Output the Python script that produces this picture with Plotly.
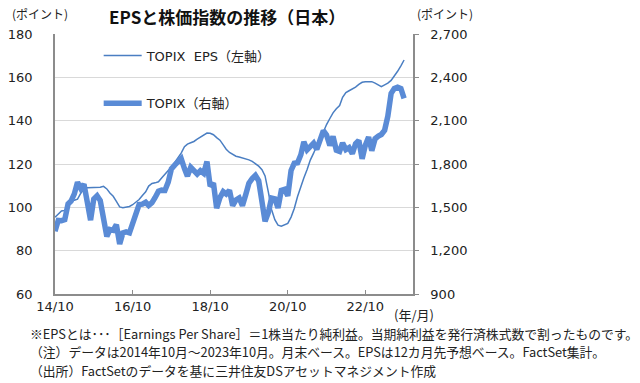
import plotly.graph_objects as go

# ---- data ----
months = [f"{y}-{m:02d}-01" for y in range(2014, 2024) for m in range(1, 13)]
months = months[months.index("2014-10-01"):months.index("2023-10-01") + 1]

eps_left = [
    95.4, 97.0, 98.3, 98.6, 100.5, 102.5, 103.3, 103.8, 106.5, 108.5,
    109.0, 109.0, 109.0, 109.0, 109.3, 109.7, 108.5, 106.6, 105.1, 102.8,
    100.2, 99.8, 100.0, 100.4, 101.2, 102.3, 103.6, 105.5, 107.2, 109.8,
    111.0, 111.3, 111.8, 113.5, 115.5, 117.0, 118.5, 120.5, 122.5, 125.0,
    128.0, 129.2, 129.8, 130.4, 131.5, 132.5, 133.5, 134.3, 134.2, 133.5,
    132.2, 131.0, 128.8, 126.8, 125.3, 124.3, 123.6, 123.2, 122.8, 122.4,
    121.9, 121.2, 120.3, 119.0, 117.4, 114.5, 107.0, 99.0, 94.3, 91.8,
    91.3, 92.0, 92.6, 95.5, 99.5, 105.0, 110.0, 113.5, 117.5, 121.8,
    125.0, 128.5, 131.2, 134.8, 138.2, 141.0, 143.6, 145.5, 147.0, 150.8,
    153.0, 153.8, 154.5, 155.5, 156.7, 157.7, 158.0, 158.0, 158.0, 157.3,
    156.5, 155.7, 156.5, 157.3, 158.6, 160.5, 162.8, 165.3, 168.0,
]

topix_right = [
    1334, 1410, 1408, 1415, 1524, 1543, 1593, 1674, 1630, 1660,
    1537, 1411, 1558, 1580, 1547, 1432, 1298, 1347, 1341, 1380,
    1246, 1323, 1330, 1323, 1393, 1469, 1519, 1522, 1535, 1513,
    1532, 1568, 1612, 1619, 1617, 1675, 1766, 1792, 1818, 1837,
    1768, 1716, 1777, 1747, 1731, 1753, 1735, 1817, 1646, 1667,
    1494, 1567, 1608, 1592, 1618, 1512, 1551, 1565, 1512, 1588,
    1667, 1699, 1721, 1684, 1511, 1403, 1464, 1564, 1559, 1496,
    1618, 1625, 1579, 1755, 1805, 1809, 1864, 1954, 1898, 1923,
    1944, 1901, 1961, 2030, 2001, 1928, 1992, 1896, 1887, 1946,
    1900, 1913, 1871, 1940, 1963, 1836, 1929, 1986, 1892, 1975,
    1993, 2004, 2034, 2131, 2289, 2323, 2332, 2323, 2254,
]

x_tick_vals = ["2014-10-01", "2016-10-01", "2018-10-01", "2020-10-01", "2022-10-01"]
x_tick_text = ["14/10", "16/10", "18/10", "20/10", "22/10"]
left_ticks = [60, 80, 100, 120, 140, 160, 180]
right_ticks = [900, 1200, 1500, 1800, 2100, 2400, 2700]

title_text = "EPSと株価指数の推移（日本）"
notes = [
    "※EPSとは･･･［Earnings Per Share］＝1株当たり純利益。当期純利益を発行済株式数で割ったものです。",
    "（注）データは2014年10月～2023年10月。月末ベース。EPSは12カ月先予想ベース。FactSet集計。",
    "（出所）FactSetのデータを基に三井住友DSアセットマネジメント作成",
]

FONT = "DejaVu Sans, Noto Sans CJK JP, sans-serif"
JFONT = "Noto Sans CJK JP, DejaVu Sans, sans-serif"
AXIS_COLOR = "#8c8c8c"

fig = go.Figure()
fig.add_trace(go.Scatter(
    x=months, y=eps_left, mode="lines", name="TOPIX\u00a0\u00a0EPS（左軸）",
    line=dict(color="#4a7ec2", width=1.5), yaxis="y", legendgroup="a",
))
fig.add_trace(go.Scatter(
    x=months, y=topix_right, mode="lines", name="TOPIX（右軸）",
    line=dict(color="#5a8bd6", width=5.5), yaxis="y2", legendgroup="b",
))

fig.update_layout(
    width=640, height=383,
    margin=dict(l=55, r=227, t=34, b=89, autoexpand=False),
    paper_bgcolor="white", plot_bgcolor="white",
    font=dict(family=FONT, size=13, color="#222222"),
    title=dict(text=f"<b>{title_text}</b>", x=0.355, xanchor="center",
               y=1 - 18 / 383, yanchor="middle",
               font=dict(family=JFONT, size=17, color="#111111")),
    xaxis=dict(
        type="date", range=["2014-10-01", "2023-12-24"], automargin=False,
        tickmode="array", tickvals=x_tick_vals, ticktext=x_tick_text,
        ticks="inside", ticklen=4, tickcolor=AXIS_COLOR,
        showline=True, linecolor=AXIS_COLOR, linewidth=1.5,
        showgrid=False, zeroline=False,
        tickfont=dict(size=13, family=FONT, color="#222222"),
    ),
    yaxis=dict(
        range=[60, 180], tickmode="array", tickvals=left_ticks, automargin=False,
        showline=True, linecolor=AXIS_COLOR, linewidth=1.5,
        showgrid=True, gridcolor="#d9d9d9", gridwidth=1,
        zeroline=False, ticks="", ticklabelstandoff=18,
        tickfont=dict(size=13, family=FONT, color="#222222"),
    ),
    yaxis2=dict(
        range=[900, 2700], tickmode="array", tickvals=right_ticks, automargin=False,
        tickformat=",d", overlaying="y", side="right",
        showline=True, linecolor=AXIS_COLOR, linewidth=1.5,
        showgrid=False, zeroline=False,
        ticks="outside", ticklen=4, tickcolor=AXIS_COLOR, ticklabelstandoff=9,
        tickfont=dict(size=13, family=FONT, color="#222222"),
    ),
    legend=dict(
        x=0.122, y=0.975, xanchor="left", yanchor="top", itemwidth=38,
        bgcolor="rgba(0,0,0,0)", tracegroupgap=28,
        font=dict(size=13, family=FONT, color="#222222"),
    ),
    showlegend=True,
)

ann = [
    dict(text="(ポイント)", xref="paper", yref="paper", x=-0.125, y=1, yshift=21,
         xanchor="left", yanchor="middle", showarrow=False,
         font=dict(family=JFONT, size=12, color="#222222")),
    dict(text="(ポイント)", xref="paper", yref="paper", x=1.005, y=1, yshift=21,
         xanchor="left", yanchor="middle", showarrow=False,
         font=dict(family=JFONT, size=12, color="#222222")),
    dict(text="(年/月)", xref="paper", yref="paper", x=(392 - 55) / 358, y=0, yshift=-20,
         xanchor="left", yanchor="middle", showarrow=False,
         font=dict(family=JFONT, size=13, color="#222222")),
]
for i, t in enumerate(notes):
    ann.append(dict(text=t, xref="paper", yref="paper", x=(28 - 55) / 358, y=0,
                    yshift=-(39 + 18.5 * i), xanchor="left", yanchor="middle",
                    showarrow=False,
                    font=dict(family=JFONT, size=12.8, color="#222222")))
fig.update_layout(annotations=ann)

fig.write_html(
    "out.html",
    config={"displayModeBar": False},
    post_script="document.body.style.margin='0';document.body.style.overflow='hidden';",
)
